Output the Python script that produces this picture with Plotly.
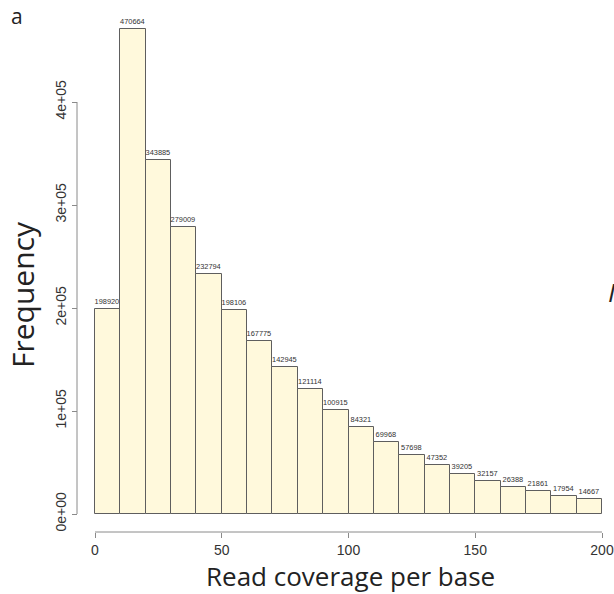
import plotly.graph_objects as go

breaks = [0, 10, 20, 30, 40, 50, 60, 70, 80, 90, 100, 110, 120, 130, 140, 150, 160, 170, 180, 190, 200]
counts = [198920, 470664, 343885, 279009, 232794, 198106, 167775, 142945, 121114, 100915,
          84321, 69968, 57698, 47352, 39205, 32157, 26388, 21861, 17954, 14667]
x_ticks = [0, 50, 100, 150, 200]
y_ticks = [0, 100000, 200000, 300000, 400000]
y_tick_labels = ["0e+00", "1e+05", "2e+05", "3e+05", "4e+05"]

W, H = 614, 594
# pixel calibration of the reference
x0_px, x200_px = 95, 602
y0_px, per1e5_px = 514, 103
sx = (x200_px - x0_px) / 200.0
x_range = [(0 - x0_px) / sx, (W - x0_px) / sx]
y_range = [-(H - y0_px) / per1e5_px * 1e5, y0_px / per1e5_px * 1e5]

centers = [(a + b) / 2 for a, b in zip(breaks[:-1], breaks[1:])]
widths = [b - a for a, b in zip(breaks[:-1], breaks[1:])]

fig = go.Figure()
fig.add_trace(go.Bar(
    x=centers, y=counts, width=widths,
    marker=dict(color="#FFF9DC", line=dict(color="#5e5e5e", width=1)),
    text=[str(c) for c in counts], textposition="outside",
    textfont=dict(family="Liberation Sans, Arial", size=8.5, color="#333333"),
    cliponaxis=False, hoverinfo="x+y",
))

yaxis_px = 77
xaxis_px = 532
axis_col = "#8a8a8a"
tick_font = dict(family="Liberation Sans, Arial", size=14, color="#333333")

fig.update_layout(
    width=W, height=H,
    margin=dict(l=0, r=0, t=0, b=0),
    paper_bgcolor="white", plot_bgcolor="white",
    showlegend=False,
    bargap=0,
    uniformtext=dict(minsize=6, mode="show"),
    xaxis=dict(
        range=x_range, anchor="free", position=1 - xaxis_px / H,
        showgrid=False, zeroline=False, showline=False,
        tickvals=x_ticks, ticktext=[str(v) for v in x_ticks],
        ticks="outside", ticklen=5, tickcolor=axis_col, tickwidth=1,
        tickfont=tick_font, automargin=False,
    ),
    yaxis=dict(
        range=y_range, anchor="free", position=yaxis_px / W,
        showgrid=False, zeroline=False, showline=False,
        tickvals=y_ticks, ticktext=y_tick_labels, tickangle=-90,
        ticks="outside", ticklen=5, tickcolor=axis_col, tickwidth=1,
        tickfont=tick_font, automargin=False,
    ),
)

# R-style axis lines spanning only the tick range
fig.add_shape(type="line", xref="x", yref="paper",
              x0=x_ticks[0], x1=x_ticks[-1], y0=1 - xaxis_px / H, y1=1 - xaxis_px / H,
              line=dict(color=axis_col, width=1))
fig.add_shape(type="line", xref="paper", yref="y",
              x0=yaxis_px / W, x1=yaxis_px / W, y0=y_ticks[0], y1=y_ticks[-1],
              line=dict(color=axis_col, width=1))

fig.add_annotation(text="Read coverage per base", xref="paper", yref="paper",
                   x=350 / W, y=1 - 576 / H, showarrow=False,
                   font=dict(family="Open Sans, Noto Sans", size=26, color="#222222"),
                   xanchor="center", yanchor="middle")
fig.add_annotation(text="Frequency", xref="paper", yref="paper",
                   x=22 / W, y=1 - 295 / H, showarrow=False,
                   font=dict(family="Open Sans, Noto Sans", size=30, color="#222222"),
                   textangle=-90, xanchor="center", yanchor="middle")
fig.add_annotation(text="a", xref="paper", yref="paper",
                   x=9 / W, y=1 - 16 / H, showarrow=False,
                   font=dict(family="Open Sans, Noto Sans", size=21, color="#222222"),
                   xanchor="left", yanchor="middle")
fig.add_annotation(text="<i>I</i>", xref="paper", yref="paper",
                   x=606 / W, y=1 - 292 / H, showarrow=False,
                   font=dict(family="Open Sans, Noto Sans", size=26, color="#222222"),
                   xanchor="left", yanchor="middle")

fig.write_html("out.html")
